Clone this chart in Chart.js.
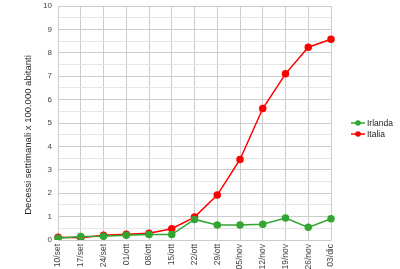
<!DOCTYPE html>
<html>
<head>
<meta charset="utf-8">
<script src="https://cdn.jsdelivr.net/npm/chart.js@4"></script>
<style>
  html, body { margin: 0; padding: 0; background: #fff; }
  #wrap { width: 400px; height: 269px; }
</style>
</head>
<body>
<div id="wrap"><canvas id="myChart" width="400" height="269"></canvas></div>
<script>
// dati
const settimane = ['10/set', '17/set', '24/set', '01/ott', '08/ott', '15/ott', '22/ott',
  '29/ott', '05/nov', '12/nov', '19/nov', '26/nov', '03/dic'];
const irlanda = [0.08, 0.15, 0.16, 0.2, 0.23, 0.23, 0.88, 0.64, 0.64, 0.67, 0.94, 0.54, 0.91];
const italia = [0.12, 0.1, 0.2, 0.25, 0.29, 0.48, 0.98, 1.92, 3.44, 5.62, 7.1, 8.24, 8.58];
const serie = ['Irlanda', 'Italia'];
const colori = ['#33a533', '#ff0000'];
const titoloY = 'Decessi settimanali x 100.000 abitanti';

const FONT = 'Arial, "Liberation Sans", sans-serif';

// legenda e titolo asse Y disegnati a mano, come nell'originale
const legendaPlugin = {
  id: 'legendaDestra',
  afterDraw(chart) {
    const c = chart.ctx;
    c.save();
    c.font = '8.5px ' + FONT;
    c.textBaseline = 'middle';
    serie.forEach((nome, i) => {
      const y = 123 + i * 11;
      c.strokeStyle = colori[i];
      c.lineWidth = 1.5;
      c.beginPath();
      c.moveTo(351, y);
      c.lineTo(365, y);
      c.stroke();
      c.fillStyle = colori[i];
      c.beginPath();
      c.arc(358, y, 2.8, 0, Math.PI * 2);
      c.fill();
      c.fillStyle = '#222';
      c.fillText(nome, 367, y + 0.5);
    });
    // titolo asse Y
    c.translate(28, 135);
    c.rotate(-Math.PI / 2);
    c.font = '9.5px ' + FONT;
    c.textAlign = 'center';
    c.fillStyle = '#222';
    c.fillText(titoloY, 0, 0);
    c.restore();
  }
};

const ctx = document.getElementById('myChart');
new Chart(ctx, {
  type: 'line',
  data: {
    labels: settimane,
    datasets: [
      { label: serie[0], data: irlanda, borderColor: colori[0], backgroundColor: colori[0],
        borderWidth: 1.5, pointRadius: 3, pointHoverRadius: 3, tension: 0 },
      { label: serie[1], data: italia, borderColor: colori[1], backgroundColor: colori[1],
        borderWidth: 1.5, pointRadius: 3, pointHoverRadius: 3, tension: 0 }
    ]
  },
  options: {
    responsive: false,
    animation: false,
    layout: { padding: { top: 6, right: 69, left: 0, bottom: 0 } },
    plugins: {
      legend: { display: false },
      tooltip: { enabled: false }
    },
    scales: {
      x: {
        offset: false,
        afterFit: s => { s.height = 29; s.paddingLeft = 0; s.paddingRight = 0; },
        grid: { color: '#cccccc', drawTicks: false },
        border: { color: '#cccccc' },
        ticks: {
          minRotation: 90, maxRotation: 90, autoSkip: false, padding: 4,
          color: '#444', font: { size: 8.5, family: FONT }
        }
      },
      y: {
        min: 0, max: 10,
        afterFit: s => { s.width = 58; s.paddingTop = 0; s.paddingBottom = 0; },
        grid: {
          drawTicks: false,
          color: c => (c.tick && Number.isInteger(c.tick.value)) ? '#cccccc' : '#e6e6e6'
        },
        border: { color: '#cccccc' },
        ticks: {
          stepSize: 0.5, autoSkip: false, padding: 6, color: '#444', font: { size: 8, family: FONT },
          callback: v => Number.isInteger(v) ? v : ''
        }
      }
    }
  },
  plugins: [legendaPlugin]
});
</script>
</body>
</html>
